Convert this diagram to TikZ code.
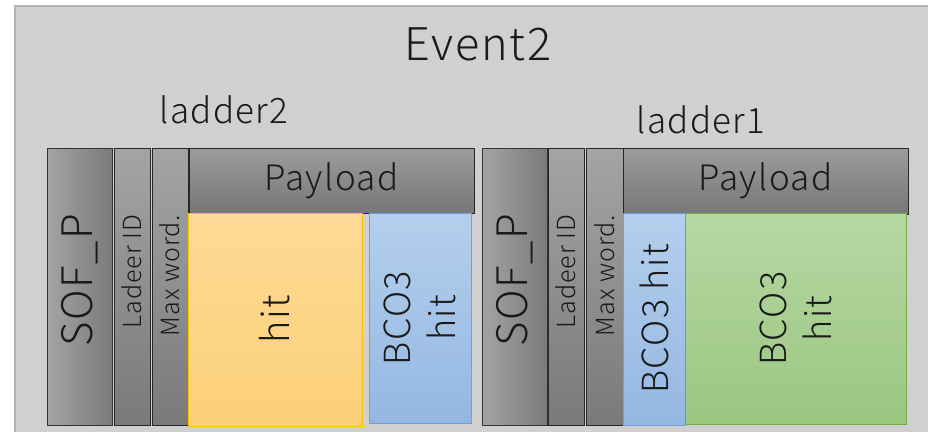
\documentclass[tikz,border=0pt]{standalone}
\usepackage{fontspec}
\setmainfont{Noto Sans CJK JP Light}[LetterSpace=4]
\definecolor{bgfill}{HTML}{D0D0D0}
\definecolor{bgline}{HTML}{B4B4B4}
\definecolor{gL}{HTML}{A4A4A4}
\definecolor{gD}{HTML}{7A7A7A}
\definecolor{pL}{HTML}{9C9C9C}
\definecolor{pD}{HTML}{777777}
\definecolor{oT}{HTML}{FDDA96}
\definecolor{oB}{HTML}{FCD078}
\definecolor{oE}{HTML}{FFC000}
\definecolor{bT}{HTML}{B4CFEC}
\definecolor{bB}{HTML}{94B7E2}
\definecolor{bE}{HTML}{6FA0D8}
\definecolor{grT}{HTML}{B6D8A5}
\definecolor{grB}{HTML}{9BC680}
\definecolor{grE}{HTML}{70AD47}
\definecolor{txt}{HTML}{1A1A1A}
\begin{document}
\begin{tikzpicture}[x=1pt,y=-1pt,
  cell/.style={inner sep=0pt, outer sep=0pt, anchor=north west, line width=0.9pt},
  sofbox/.style={cell, draw=black!80, left color=gL, right color=gD},
  colbox/.style={cell, draw=black!85, top color=gL, bottom color=gD},
  paybox/.style={cell, draw=black!85, top color=pL, bottom color=pD},
  hitbox/.style={cell, draw=oE, top color=oT, bottom color=oB},
  bluebox/.style={cell, draw=bE, top color=bT, bottom color=bB},
  greenbox/.style={cell, draw=grE, top color=grT, bottom color=grB},
  lbl/.style={text=txt, inner sep=0pt, align=center},
  vlbl/.style={lbl, rotate=90}
]
\useasboundingbox (0,0) rectangle (928,431);
% background
\node[cell, draw=bgline, fill=bgfill, line width=1.2pt, minimum width=930pt, minimum height=440pt] (bg) at (15,6) {};
\node[lbl, font=\fontsize{45}{50}\selectfont] (ev) at (478,44) {Event2};
\node[lbl, font=\fontsize{35}{40}\selectfont] (l2) at (224,110) {ladder2};
\node[lbl, font=\fontsize{35}{40}\selectfont] (l1) at (701,120) {ladder1};
% ladder2 group
\node[sofbox, minimum width=65pt, minimum height=277pt] (s2) at (47,148) {};
\node[colbox, minimum width=36pt, minimum height=277pt] (id2) at (114,148) {};
\node[colbox, minimum width=36pt, minimum height=277pt] (mw2) at (152,148) {};
\node[paybox, minimum width=285pt, minimum height=65pt] (p2) at (189,148) {};
\node[hitbox, minimum width=174pt, minimum height=213pt] (h2) at (188,213) {};
\node[bluebox, minimum width=102pt, minimum height=210pt] (b2) at (369,213) {};
\node[vlbl, font=\fontsize{42}{46}\selectfont] (s2t) at ([yshift=6]s2.center) {SOF\_P};
\node[vlbl, font=\fontsize{25}{28}\selectfont] (id2t) at ([yshift=15]id2.center) {Ladeer ID};
\node[vlbl, font=\fontsize{25}{28}\selectfont] (mw2t) at ([yshift=11]mw2.center) {Max word.};
\node[lbl, font=\fontsize{35}{40}\selectfont] (p2t) at (p2.center) {Payload};
\node[vlbl, font=\fontsize{38}{44}\selectfont] (h2t) at (h2.center) {hit};
\node[vlbl, font=\fontsize{36}{45}\selectfont] (b2t) at (b2.center) {BCO3\\hit};
% ladder1 group
\node[sofbox, minimum width=65pt, minimum height=277pt] (s1) at (482,148) {};
\node[colbox, minimum width=36pt, minimum height=277pt] (id1) at (548,148) {};
\node[colbox, minimum width=37pt, minimum height=277pt] (mw1) at (586,148) {};
\node[paybox, minimum width=285pt, minimum height=66pt] (p1) at (623,148) {};
\node[bluebox, minimum width=62pt, minimum height=212pt] (b1) at (623,213) {};
\node[greenbox, minimum width=221pt, minimum height=211pt] (g1) at (685,213) {};
\node[vlbl, font=\fontsize{42}{46}\selectfont] (s1t) at ([yshift=6]s1.center) {SOF\_P};
\node[vlbl, font=\fontsize{25}{28}\selectfont] (id1t) at ([yshift=15]id1.center) {Ladeer ID};
\node[vlbl, font=\fontsize{25}{28}\selectfont] (mw1t) at ([yshift=11]mw1.center) {Max word.};
\node[lbl, font=\fontsize{35}{40}\selectfont] (p1t) at (p1.center) {Payload};
\node[vlbl, font=\fontsize{36}{45}\selectfont] (b1t) at (b1.center) {BCO3 hit};
\node[vlbl, font=\fontsize{36}{45}\selectfont] (g1t) at (g1.center) {BCO3\\hit};
\end{tikzpicture}
\end{document}
